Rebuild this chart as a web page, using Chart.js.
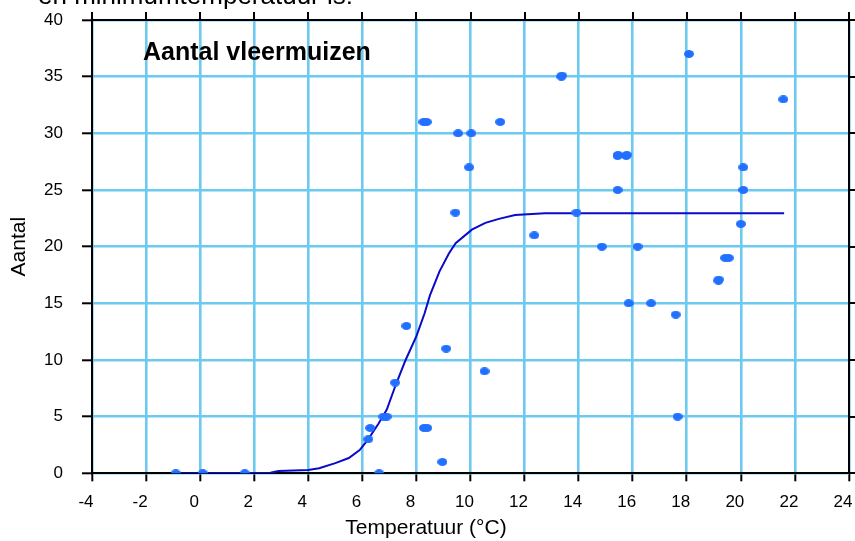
<!DOCTYPE html>
<html>
<head>
<meta charset="utf-8">
<script src="https://cdn.jsdelivr.net/npm/chart.js@4/dist/chart.umd.min.js"></script>
<style>
  html, body { margin: 0; padding: 0; background: #fff; }
  #wrap { width: 855px; height: 541px; }
  canvas { display: block; }
</style>
</head>
<body>
<div id="wrap"><canvas id="c" width="855" height="541"></canvas></div>
<script>
// Observed bat counts per night against the minimum temperature
const tempObs  = [-0.9, 0.1, 1.65, 6.62, 8.96, 6.22, 6.29, 6.78, 6.9, 8.28, 8.4, 7.21, 7.63, 9.1, 10.52,
                  8.26, 8.38, 9.54, 10.03, 11.1, 9.95, 9.44, 12.36, 13.92, 13.36, 13.38, 18.08, 21.57,
                  15.44, 15.46, 15.76, 15.78, 15.44, 20.09, 20.09, 20.0, 14.86, 16.18, 19.42, 19.55,
                  19.17, 19.18, 15.85, 16.68, 17.59, 17.66];
const countObs = [0, 0, 0, 0, 1, 3, 4, 5, 5, 4, 4, 8, 13, 11, 9,
                  31, 31, 30, 30, 31, 27, 23, 21, 23, 35, 35.1, 37, 33,
                  28, 28.1, 28, 28.1, 25, 27, 25, 22, 20, 20, 19, 19,
                  17, 17.1, 15, 15, 14, 5];

// Fitted logistic-type curve (temperature, expected count)
const curveTemp  = [-0.9, 2.6, 2.9, 4.0, 4.4, 5.0, 5.5, 5.9, 6.2, 6.6, 6.9, 7.25, 7.6, 8.0, 8.3, 8.5,
                    8.85, 9.2, 9.45, 10.05, 10.55, 11.05, 11.65, 12.75, 21.6];
const curveCount = [0, 0.05, 0.2, 0.3, 0.45, 0.9, 1.35, 2.05, 2.95, 4.4, 5.6, 7.9, 10.0, 12.1, 14.1, 15.7,
                    17.8, 19.4, 20.3, 21.5, 22.1, 22.45, 22.8, 22.95, 22.95];

const xTickValues = [-4, -2, 0, 2, 4, 6, 8, 10, 12, 14, 16, 18, 20, 22, 24];
const yTickValues = [0, 5, 10, 15, 20, 25, 30, 35, 40];

const FONT = 'Arial, "Liberation Sans", Helvetica, sans-serif';
const GRID_BLUE = 'rgb(108, 202, 240)';
const DOT_BLUE = '#2170ff';

// slightly flattened dot used for the observations
function dotImage(w, h, color) {
  const c = document.createElement('canvas');
  c.width = w; c.height = h;
  const g = c.getContext('2d');
  g.fillStyle = color;
  g.beginPath();
  g.ellipse(w / 2, h / 2, w / 2, h / 2, 0, 0, Math.PI * 2);
  g.fill();
  return c;
}

// closes the frame (top/right), adds outward ticks there and the inner heading
const framePlugin = {
  id: 'frame',
  afterDraw(chart) {
    const { ctx, chartArea: a, scales: { x, y } } = chart;
    ctx.save();
    ctx.strokeStyle = '#000';
    ctx.lineWidth = 2;
    ctx.beginPath();
    ctx.moveTo(a.left, a.top);
    ctx.lineTo(a.right, a.top);
    ctx.lineTo(a.right, a.bottom);
    x.ticks.forEach(t => {
      const px = Math.round(x.getPixelForValue(t.value));
      ctx.moveTo(px, a.top);
      ctx.lineTo(px, a.top - 8);
    });
    y.ticks.forEach(t => {
      const py = Math.round(y.getPixelForValue(t.value));
      ctx.moveTo(a.right, py);
      ctx.lineTo(a.right + 8, py);
    });
    ctx.stroke();

    ctx.fillStyle = '#000';
    ctx.textBaseline = 'alphabetic';
    ctx.textAlign = 'left';
    ctx.font = 'bold 25px ' + FONT;
    ctx.fillText('Aantal vleermuizen', a.left + 51, a.top + 40);

    ctx.textAlign = 'right';
    ctx.font = '26px ' + FONT;
    ctx.fillText('en minimumtemperatuur is:', 353, 4);
    ctx.restore();
  }
};

Chart.defaults.font.family = FONT;
Chart.defaults.color = '#000';

new Chart(document.getElementById('c'), {
  type: 'scatter',
  data: {
    datasets: [
      {
        label: 'Waarnemingen',
        data: tempObs.map((t, i) => ({ x: t, y: countObs[i] })),
        pointStyle: dotImage(10, 8, DOT_BLUE),
        pointRadius: 5,
        showLine: false
      },
      {
        label: 'Model',
        data: curveTemp.map((t, i) => ({ x: t, y: curveCount[i] })),
        showLine: true,
        borderColor: '#0a0ac8',
        borderWidth: 2,
        pointRadius: 0,
        tension: 0,
        fill: false
      }
    ]
  },
  options: {
    responsive: false,
    animation: false,
    layout: { padding: { left: 0, right: 3, top: 20, bottom: 0 } },
    plugins: {
      legend: { display: false },
      tooltip: { enabled: false },
      title: {
        display: true,
        position: 'bottom',
        text: 'Temperatuur (°C)',
        color: '#000',
        font: { size: 21, weight: 'normal' },
        padding: { top: 0, bottom: 0 }
      }
    },
    scales: {
      x: {
        type: 'linear',
        min: -4,
        max: 24,
        afterBuildTicks: s => { s.ticks = xTickValues.map(v => ({ value: v })); },
        afterFit: s => { s.height = 42.5; s.paddingLeft = 0; s.paddingRight = 0; },
        ticks: { font: { size: 17 }, padding: 11, maxRotation: 0, autoSkip: false, labelOffset: -6 },
        grid: {
          color: GRID_BLUE,
          lineWidth: 2.6,
          tickColor: '#000',
          tickLength: 8,
          tickWidth: 2,
          drawTicks: true
        },
        border: { color: '#000', width: 2 }
      },
      y: {
        min: 0,
        max: 40,
        afterBuildTicks: s => { s.ticks = yTickValues.map(v => ({ value: v })); },
        afterFit: s => { s.width = 92; s.paddingTop = 0; s.paddingBottom = 0; },
        ticks: { font: { size: 17 }, padding: 19 },
        title: {
          display: true,
          text: 'Aantal',
          font: { size: 21 },
          padding: { top: 7, bottom: 0 }
        },
        grid: {
          color: GRID_BLUE,
          lineWidth: 2.6,
          tickColor: '#000',
          tickLength: 10,
          tickWidth: 2,
          drawTicks: true
        },
        border: { color: '#000', width: 2 }
      }
    }
  },
  plugins: [framePlugin]
});
</script>
</body>
</html>
